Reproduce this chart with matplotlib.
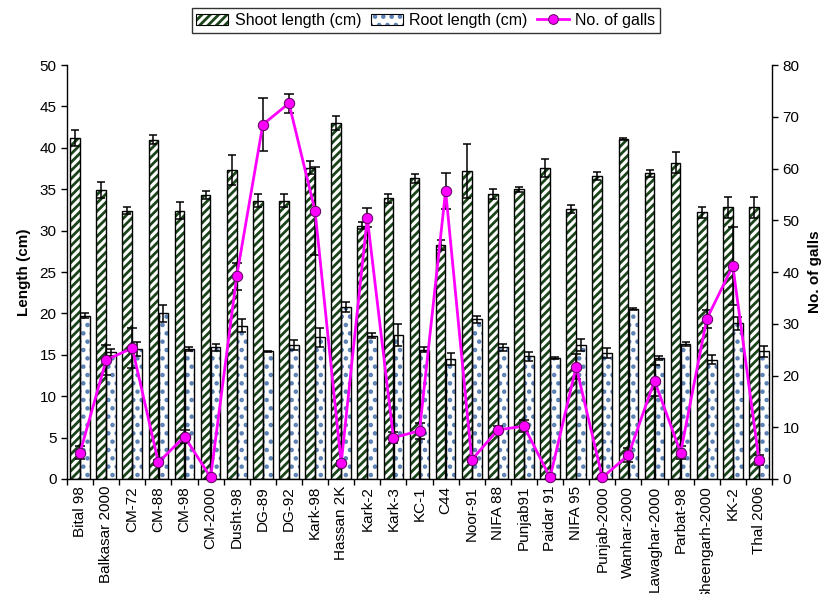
import matplotlib
matplotlib.use("Agg")
import matplotlib.pyplot as plt
import numpy as np
from matplotlib.patches import Patch
from matplotlib.lines import Line2D
from matplotlib.legend_handler import HandlerTuple

plt.rcParams['font.family'] = ['Liberation Sans', 'DejaVu Sans']
plt.rcParams['hatch.linewidth'] = 2.0

cultivars = ["Bital 98", "Balkasar 2000", "CM-72", "CM-88", "CM-98", "CM-2000",
             "Dusht-98", "DG-89", "DG-92", "Kark-98", "Hassan 2K", "Kark-2",
             "Kark-3", "KC-1", "C44", "Noor-91", "NIFA 88", "Punjab91",
             "Paidar 91", "NIFA 95", "Punjab-2000", "Wanhar-2000",
             "Lawaghar-2000", "Parbat-98", "Sheengarh-2000", "KK-2", "Thal 2006"]

shoot = [41.2, 34.9, 32.4, 41.0, 32.4, 34.3, 37.3, 33.6, 33.6, 37.6, 43.0, 30.6,
         33.9, 36.3, 28.3, 37.2, 34.4, 35.0, 37.6, 32.6, 36.6, 41.1, 36.9, 38.2,
         32.2, 32.8, 32.8]
shoot_err = [1.0, 1.0, 0.4, 0.5, 1.0, 0.5, 1.8, 0.8, 0.8, 0.8, 0.8, 0.4,
             0.55, 0.55, 0.6, 3.3, 0.6, 0.3, 1.1, 0.5, 0.5, 0.1, 0.4, 1.3,
             0.7, 1.3, 1.3]

root = [19.7, 15.3, 15.7, 20.0, 15.7, 15.9, 18.5, 15.4, 16.2, 17.1, 20.8, 17.3,
        17.4, 15.6, 14.5, 19.3, 15.9, 14.8, 14.6, 16.2, 15.2, 20.5, 14.65, 16.3,
        14.4, 18.8, 15.4]
root_err = [0.3, 0.4, 0.8, 1.0, 0.3, 0.4, 0.8, 0.1, 0.6, 1.1, 0.6, 0.3,
            1.3, 0.3, 0.7, 0.4, 0.4, 0.5, 0.15, 0.7, 0.6, 0.1, 0.25, 0.25,
            0.55, 0.8, 0.7]

galls = [5.1, 23.0, 25.3, 3.2, 8.2, 0.3, 39.2, 68.5, 72.6, 51.8, 3.0, 50.5,
         8.0, 9.3, 55.7, 3.7, 9.5, 10.2, 0.3, 21.7, 0.3, 4.6, 19.0, 5.1,
         30.9, 41.2, 3.7]
galls_err = [1.2, 2.9, 3.8, 0.5, 1.3, 0.2, 2.6, 5.2, 1.8, 8.5, 0.5, 1.9,
             1.0, 1.5, 3.5, 0.5, 0.7, 1.2, 0.2, 2.4, 0.2, 1.4, 3.0, 1.2,
             1.7, 7.5, 1.0]

shoot_hatch = '#1a451a'
root_hatch = '#5a80b4'
shoot_pat = '////'
root_pat = '..'

fig = plt.figure(figsize=(8.26, 5.94), dpi=100)
ax = fig.add_axes([67 / 826, 1 - 479 / 594, (772 - 67) / 826, (479 - 65) / 594])

x = np.arange(len(cultivars))
w = 0.37
off = 0.19

# Shoot length bars: hatched fill, then black outline
ax.bar(x - off, shoot, w, color='white', edgecolor=shoot_hatch, hatch=shoot_pat,
       linewidth=0, zorder=2)
ax.bar(x - off, shoot, w, fill=False, edgecolor='black', linewidth=1.0, zorder=3)
ax.errorbar(x - off, shoot, yerr=shoot_err, fmt='none', ecolor='black',
            elinewidth=1.1, capsize=3, capthick=1.1, zorder=4)

# Root length bars: dotted fill, then black outline
ax.bar(x + off, root, w, color='white', edgecolor=root_hatch, hatch=root_pat,
       linewidth=0, zorder=2)
ax.bar(x + off, root, w, fill=False, edgecolor='black', linewidth=1.0, zorder=3)
ax.errorbar(x + off, root, yerr=root_err, fmt='none', ecolor='black',
            elinewidth=1.1, capsize=3, capthick=1.1, zorder=4)

ax.set_xlim(-0.5, len(cultivars) - 0.5)
ax.set_ylim(0, 50)
ax.set_yticks(np.arange(0, 51, 5))
ax.set_xticks(x)
ax.set_xticklabels(cultivars, rotation=90, fontsize=11)
ax.tick_params(axis='x', which='major', length=0, pad=5)
ax.set_xticks(np.arange(-0.5, len(cultivars), 1), minor=True)
ax.tick_params(axis='x', which='minor', length=4, width=1, direction='out')
ax.tick_params(axis='y', labelsize=11, length=4, width=1, direction='out')
ax.set_ylabel('Length (cm)', fontsize=11, fontweight='bold', labelpad=6)
ax.spines['top'].set_visible(False)
ax.spines['right'].set_visible(False)
for s in ('left', 'bottom'):
    ax.spines[s].set_linewidth(1.0)

# Number of galls on the secondary axis
ax2 = ax.twinx()
ax2.errorbar(x, galls, yerr=galls_err, fmt='none', ecolor='black',
             elinewidth=1.1, capsize=3.5, capthick=1.1, zorder=4)
ax2.plot(x, galls, color='#ff00ff', linewidth=2.0, marker='o', markersize=7.5,
         markerfacecolor='#ff00ff', markeredgecolor='#5a005a',
         markeredgewidth=0.7, zorder=5, clip_on=False)
ax2.set_ylim(0, 80)
ax2.set_yticks(np.arange(0, 81, 10))
ax2.tick_params(axis='y', labelsize=11, length=4, width=1, direction='out')
ax2.set_ylabel('No. of galls', fontsize=11, fontweight='bold', labelpad=6)
ax2.spines['top'].set_visible(False)
ax2.spines['left'].set_visible(False)
ax2.spines['bottom'].set_visible(False)
ax2.spines['right'].set_linewidth(1.0)

handles = [
    (Patch(facecolor='white', edgecolor=shoot_hatch, hatch=shoot_pat, linewidth=0),
     Patch(fill=False, edgecolor='black', linewidth=0.8)),
    (Patch(facecolor='white', edgecolor=root_hatch, hatch=root_pat, linewidth=0),
     Patch(fill=False, edgecolor='black', linewidth=0.8)),
    Line2D([], [], color='#ff00ff', linewidth=2.0, marker='o', markersize=7,
           markerfacecolor='#ff00ff', markeredgecolor='#5a005a',
           markeredgewidth=0.7),
]
labels = ['Shoot length (cm)', 'Root length (cm)', 'No. of galls']
leg = fig.legend(handles, labels, loc='upper center',
                 bbox_to_anchor=(426 / 826, 1 - 8 / 594), ncol=3,
                 handler_map={tuple: HandlerTuple(ndivide=1, pad=0)},
                 fontsize=11.5, frameon=True, fancybox=False, edgecolor='black',
                 handlelength=2.0, handleheight=0.7, columnspacing=0.6,
                 handletextpad=0.4, borderpad=0.3, borderaxespad=0)
leg.get_frame().set_linewidth(1.0)

fig.savefig('out.png', dpi=100)
